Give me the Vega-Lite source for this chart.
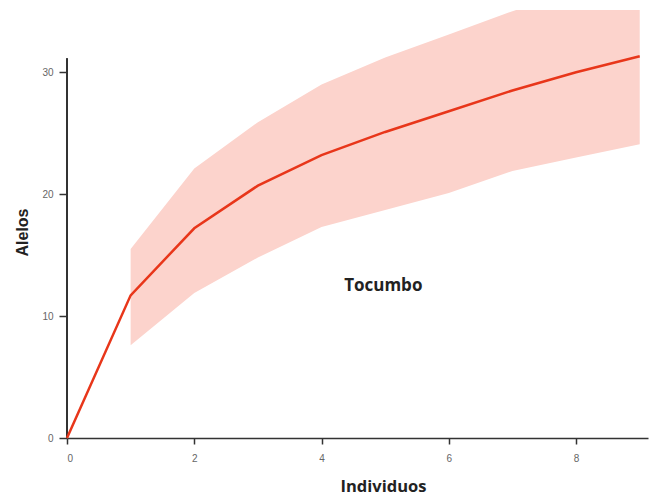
{
  "$schema": "https://vega.github.io/schema/vega-lite/v6.json",
  "autosize": "none",
  "width": 581,
  "height": 428,
  "padding": {"left": 67, "top": 10, "right": 2, "bottom": 64},
  "background": "white",
  "config": {"view": {"stroke": null}},
  "data": {"values": [
    {"n": 0, "mean": 0, "lo": null, "hi": null},
    {"n": 1, "mean": 11.7, "lo": 7.6, "hi": 15.5},
    {"n": 2, "mean": 17.2, "lo": 11.9, "hi": 22.1},
    {"n": 3, "mean": 20.7, "lo": 14.8, "hi": 25.9},
    {"n": 4, "mean": 23.2, "lo": 17.3, "hi": 29.0},
    {"n": 5, "mean": 25.1, "lo": 18.7, "hi": 31.2},
    {"n": 6, "mean": 26.8, "lo": 20.1, "hi": 33.1},
    {"n": 7, "mean": 28.5, "lo": 21.9, "hi": 35.0},
    {"n": 8, "mean": 30.0, "lo": 23.0, "hi": 36.7},
    {"n": 9, "mean": 31.3, "lo": 24.1, "hi": 38.2}
  ]},
  "layer": [
    {
      "mark": {"type": "area", "color": "#fcd3cc", "opacity": 1, "clip": true},
      "encoding": {
        "x": {"field": "n", "type": "quantitative", "scale": {"domain": [0, 9.13], "nice": false, "zero": false},
          "axis": {"values": [0, 2, 4, 6, 8], "format": "d", "grid": false, "title": "Individuos",
            "domainColor": "#333", "domainWidth": 1.5, "tickColor": "#333", "tickWidth": 1.5, "tickSize": 6,
            "labelColor": "#666", "labelFont": "Liberation Sans", "labelFontSize": 10, "labelPadding": 9,
            "titleFont": "Open Sans", "titleFontSize": 16.5, "titleFontWeight": "bold", "titleColor": "#222",
            "titleX": 316, "titleY": 48, "titleBaseline": "middle", "titleAnchor": "middle"}},
        "y": {"field": "lo", "type": "quantitative", "scale": {"domain": [0, 35.1], "nice": false},
          "axis": {"values": [0, 10, 20, 30], "grid": false, "title": "Alelos", "domain": false,
            "tickColor": "#333", "tickWidth": 1.5, "tickSize": 8,
            "labelColor": "#666", "labelFont": "Liberation Sans", "labelFontSize": 10, "labelPadding": 6,
            "titleFont": "Liberation Sans", "titleFontSize": 16, "titleFontWeight": "bold", "titleColor": "#222",
            "titleX": -45, "titleY": 222, "titleBaseline": "middle", "titleAnchor": "middle"}},
        "y2": {"field": "hi"}
      }
    },
    {
      "mark": {"type": "rule", "color": "#333", "strokeWidth": 1.5},
      "encoding": {
        "x": {"datum": 0, "type": "quantitative"},
        "y": {"datum": 0, "type": "quantitative"},
        "y2": {"datum": 31.1}
      }
    },
    {
      "mark": {"type": "line", "color": "#e8361a", "strokeWidth": 2.5},
      "encoding": {
        "x": {"field": "n", "type": "quantitative"},
        "y": {"field": "mean", "type": "quantitative"}
      }
    },
    {
      "data": {"values": [{"x": 4.97, "y": 12.5, "label": "Tocumbo"}]},
      "mark": {"type": "text", "font": "Open Sans", "fontSize": 17, "fontWeight": "bold", "color": "#222", "align": "center", "baseline": "middle"},
      "encoding": {
        "x": {"field": "x", "type": "quantitative"},
        "y": {"field": "y", "type": "quantitative"},
        "text": {"field": "label"}
      }
    }
  ]
}
